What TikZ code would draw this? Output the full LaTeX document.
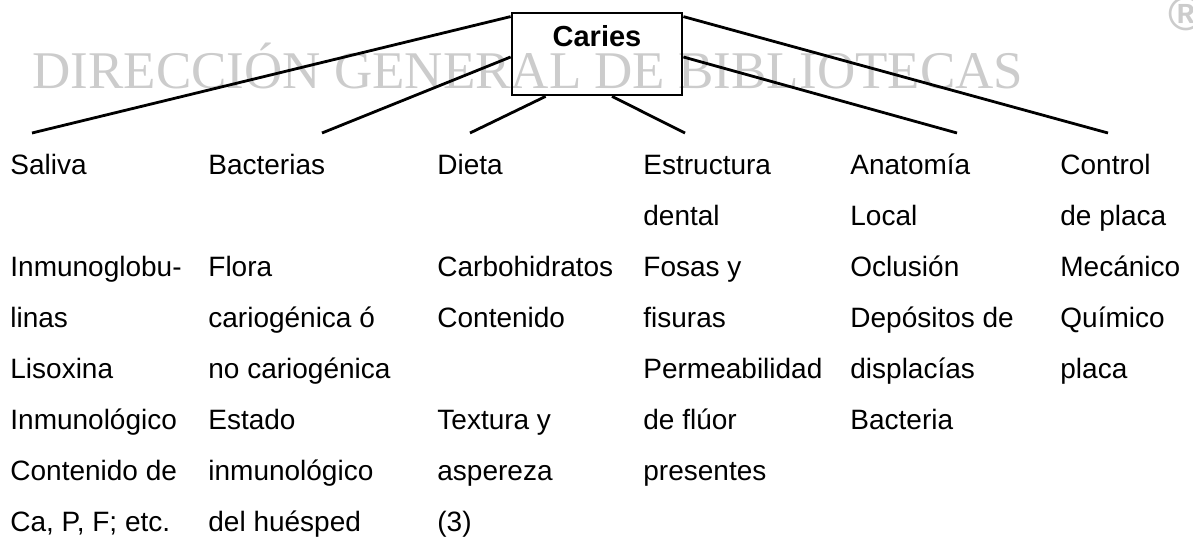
\documentclass[tikz,border=0pt]{standalone}
\usepackage{fontspec}
\setmainfont{Liberation Sans}
\newfontfamily\marcafont{Liberation Serif}
\usetikzlibrary{calc}

\tikzset{
	rama/.style={line width=1.4pt},
	columna/.style={anchor=north west, inner sep=0pt, align=left, font=\fontsize{14}{25.5}\selectfont},
	marca/.style={text=gray!40, inner sep=0pt},
}

\begin{document}
\begin{tikzpicture}[x=0.5pt, y=-0.5pt] % one unit = one pixel, y downwards
	\useasboundingbox (0,0) rectangle (1193,541);
	
	% watermark
	\node[marca, anchor=base west, font=\marcafont\fontsize{26.5}{30}\selectfont] (direccion) at (32,88) {DIRECCIÓN GENERAL DE BIBLIOTECAS};
	\node[marca, font=\bfseries\fontsize{24}{27}\selectfont] (registro) at (1186,14) {®};
	
	% main box
	\node[draw, line width=1.4pt, minimum width=85pt, minimum height=41pt, inner sep=0pt,
	text height=10.4pt, text depth=18.4pt, font=\bfseries\fontsize{14.5}{17}\selectfont] (caries) at (597,54) {Caries};
	
	% free ends of the branches
	\coordinate (saliva-end) at (32,133);
	\coordinate (bacterias-end) at (322,133);
	\coordinate (dieta-end) at (470,133);
	\coordinate (estructura-end) at (685,133);
	\coordinate (anatomia-end) at (957,133);
	\coordinate (control-end) at (1108,133);
	
	% branches
	\draw[rama] ([yshift=-2.5pt]caries.north west) -- (saliva-end);
	\draw[rama] ([yshift=-1.5pt]caries.west) -- (bacterias-end);
	\draw[rama] ([xshift=17.5pt]caries.south west) -- (dieta-end);
	\draw[rama] ([xshift=7.5pt]caries.south) -- (estructura-end);
	\draw[rama] ([yshift=-1.5pt]caries.east) -- (anatomia-end);
	\draw[rama] ([yshift=-2.5pt]caries.north east) -- (control-end);
	
	% columns
	\node[columna] (saliva) at (10,138) {\strut Saliva\\ \mbox{}\\ Inmunoglobu-\\ linas\\ Lisoxina\\ Inmunológico\\ Contenido de\\ Ca, P, F; etc.};
	\node[columna] (bacterias) at (208,138) {\strut Bacterias\\ \mbox{}\\ Flora\\ cariogénica ó\\ no cariogénica\\ Estado\\ inmunológico\\ del huésped};
	\node[columna] (dieta) at (437,138) {\strut Dieta\\ \mbox{}\\ Carbohidratos\\ Contenido\\ \mbox{}\\ Textura y\\ aspereza\\ (3)};
	\node[columna] (estructura) at (643,138) {\strut Estructura\\ dental\\ Fosas y\\ fisuras\\ Permeabilidad\\ de flúor\\ presentes};
	\node[columna] (anatomia) at (850,138) {\strut Anatomía\\ Local\\ Oclusión\\ Depósitos de\\ displacías\\ Bacteria};
	\node[columna] (control) at (1060,138) {\strut Control\\ de placa\\ Mecánico\\ Químico\\ placa};
\end{tikzpicture}
\end{document}
